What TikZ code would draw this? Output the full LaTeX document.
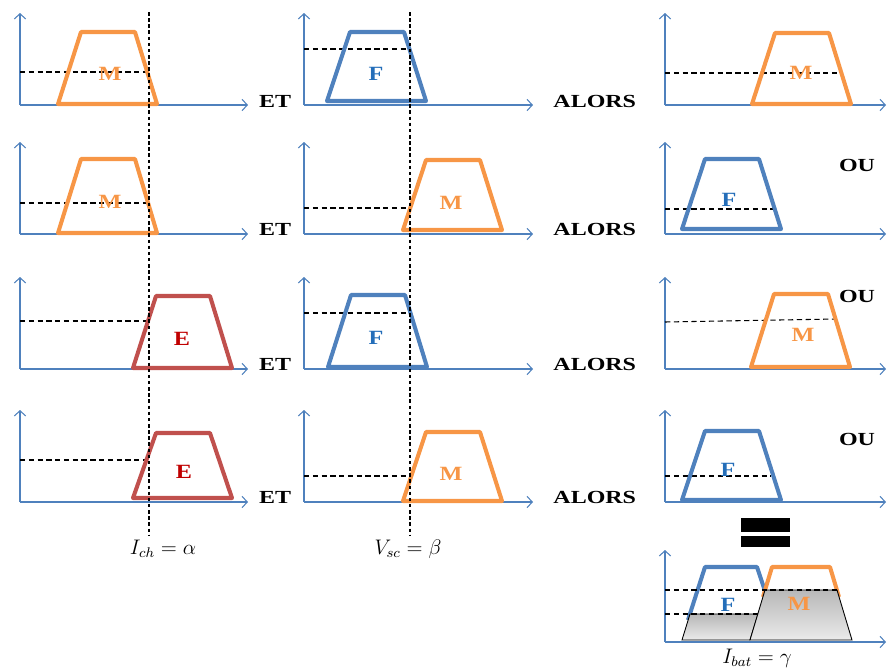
\documentclass[tikz,border=0pt]{standalone}
\usepackage{amsmath, amssymb}
\usepackage{fontspec}
\setmainfont{Liberation Serif}
\usepackage{xcolor}
\usepackage{tikz}
\usetikzlibrary{arrows.meta, calc}
\definecolor{axisblue}{RGB}{79, 129, 189}
\definecolor{setorange}{RGB}{247, 150, 70}
\definecolor{setblue}{RGB}{79, 129, 189}
\definecolor{setred}{RGB}{192, 80, 77}
\definecolor{txtblue}{RGB}{36, 110, 185}
\definecolor{txtred}{RGB}{192, 0, 0}

\begin{document}
\begin{tikzpicture}[x=0.02cm, y=-0.02cm,
    axis/.style={axisblue, line width=0.6pt, -{Straight Barb[length=3pt, width=6.5pt]}},
    setline/.style={line width=2.3pt, line join=round},
    level/.style={black, line width=0.6pt, dash pattern=on 3pt off 2pt},
    cut/.style={black, line width=0.6pt, dash pattern=on 2pt off 1.5pt},
    word/.style={font=\fontsize{10.5}{12}\selectfont\bfseries, xscale=1.3, inner sep=0pt},
    setlabel/.style={font=\fontsize{11.5}{13}\selectfont\bfseries, xscale=1.2, inner sep=0pt},
    mathlabel/.style={font=\fontsize{12}{14}\selectfont, inner sep=0pt}]

    \useasboundingbox (0,0) rectangle (887,670);

    % Axes of the 4 x 3 panels (column: y-axis, end of x-axis / row: origin)
    \foreach \oy in {105, 234, 369, 502} {
        \foreach \ox/\xe in {20/248, 304/533, 665/886} {
            \draw[axis] (\ox,\oy) -- (\ox,\oy-92);
            \draw[axis] (\ox,\oy) -- (\xe,\oy);
        }
    }

    % Membership levels (dashed)
    \foreach \xa/\ya/\xb/\yb in {20/72/148/72, 304/49/409/49, 665/73/839/73,
                                 20/203/149/203, 304/208/410/208, 665/209/773/209,
                                 20/321/149/321, 304/313/409/313, 665/322/836/319,
                                 20/460/147/460, 304/476/411/476, 665/476/771/476} {
        \draw[level] (\xa,\ya) -- (\xb,\yb);
    }

    % Fuzzy sets: bottom-left x, bottom y, top y, colour, label
    \foreach \bl/\yb/\yt/\col/\tcol/\lx/\ly/\lab/\name in {
            58/104/32/setorange/setorange/110/74/M/s11,
            327/101/32/setblue/txtblue/376/74/F/s12,
            752/104/33/setorange/setorange/801/73/M/s13,
            58/233/159/setorange/setorange/110/202/M/s21,
            403/230/160/setorange/setorange/451/203/M/s22,
            682/229/159/setblue/txtblue/729/200/F/s23,
            133/368/296/setred/txtred/182/339/E/s31,
            328/367/295/setblue/txtblue/376/338/F/s32,
            751/367/294/setorange/setorange/803/335/M/s33,
            133/498/433/setred/txtred/184/472/E/s41,
            403/501/432/setorange/setorange/451/474/M/s42,
            682/500/431/setblue/txtblue/728/470/F/s43} {
        \draw[setline, \col] (\bl,\yb) -- (\bl+23,\yt) -- (\bl+77,\yt) -- (\bl+99,\yb) -- cycle;
        \node[setlabel, text=\tcol] (\name) at (\lx,\ly) {\lab};
    }

    % Input values
    \node[mathlabel] (ich) at (163,549) {$I_{ch} = \alpha$};
    \node[mathlabel] (vsc) at (408,549) {$V_{sc} = \beta$};
    \coordinate (alphatop) at (149,12);
    \coordinate (betatop) at (410,12);
    \draw[cut] (alphatop) -- (alphatop |- 0,535);
    \draw[cut] (betatop) -- (betatop |- 0,535);

    % Connectives
    \foreach \y [count=\i] in {101, 229, 364, 497} {
        \node[word] (et\i) at (275,\y) {ET};
        \node[word, anchor=west] (alors\i) at (553,\y) {ALORS};
    }
    \foreach \y [count=\i from 2] in {165, 296, 439} {
        \node[word] (ou\i) at (857,\y) {OU};
    }

    % Equals sign
    \fill[black] (741,518) rectangle (790,532);
    \fill[black] (741,536) rectangle (790,547);

    % Aggregated output
    \draw[axis] (665,642) -- (665,550);
    \draw[axis] (665,642) -- (886,642);
    \draw[setline, setblue] (688,620) -- (705,567) -- (757,567) -- (767,597);
    \draw[setline, setorange] (763,597) -- (772,567) -- (830,567) -- (839,597);
    \draw[black, line width=0.5pt, top color=black!28, bottom color=black!8]
        (682,640) -- (690,614) -- (758,614) -- (750,640) -- cycle;
    \draw[black, line width=0.5pt, top color=black!28, bottom color=black!8]
        (750,640) -- (765,590) -- (837,590) -- (852,640) -- cycle;
    \draw[level] (665,590) -- (837,590);
    \draw[level] (665,614) -- (758,614);
    \node[setlabel, text=txtblue] (sF) at (728,605) {F};
    \node[setlabel, text=setorange] (sM) at (799,604) {M};
    \node[mathlabel] (ibat) at (757,658) {$I_{bat} = \gamma$};
\end{tikzpicture}
\end{document}
